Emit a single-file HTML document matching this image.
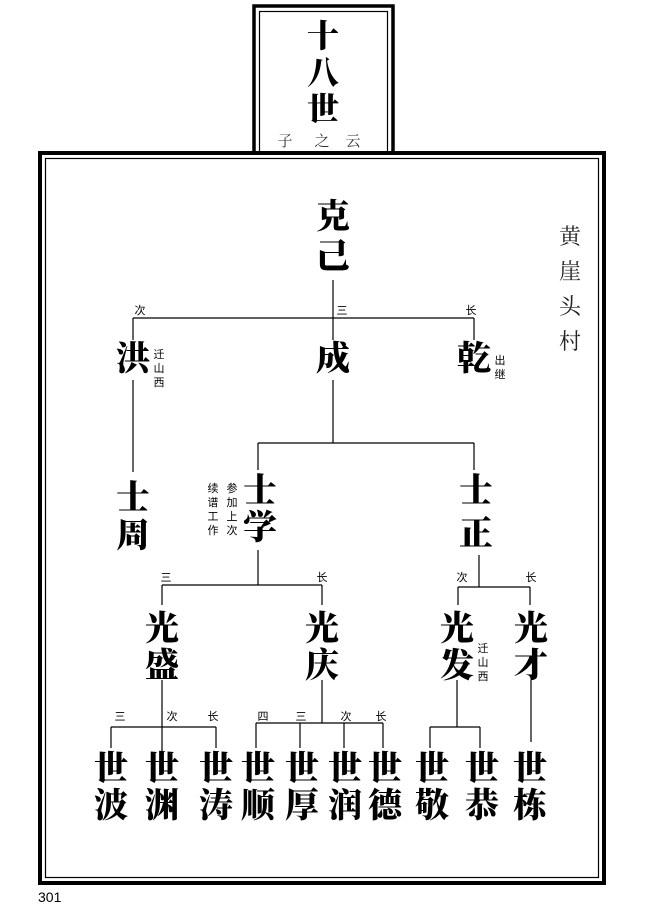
<!DOCTYPE html>
<html><head><meta charset="utf-8"><style>
body{margin:0;background:#fff;}
svg{display:block;}
.b{font-family:"Liberation Serif","Noto Serif CJK SC",serif;font-weight:900;font-size:34px;text-anchor:middle;fill:#000;}
.s{font-family:"Liberation Sans","Noto Sans CJK SC",sans-serif;font-size:11px;text-anchor:middle;fill:#000;}
.v{font-family:"Liberation Serif","Noto Serif CJK SC",serif;font-size:22px;text-anchor:middle;fill:#222;}
.t{font-family:"Liberation Serif","Noto Serif CJK SC",serif;font-size:15px;text-anchor:middle;fill:#333;}
</style></head><body>
<svg width="646" height="914" viewBox="0 0 646 914" xmlns="http://www.w3.org/2000/svg">
<g fill="none" stroke="#000">
<rect x="254" y="6" width="139" height="150" stroke-width="3.5"/>
<rect x="259.5" y="11.5" width="128" height="145" stroke-width="1.2"/>
<rect x="40" y="153" width="564" height="730" stroke-width="4" fill="#fff"/>
<rect x="45.5" y="158.5" width="553" height="719" stroke-width="1.2"/>
</g>
<g fill="none" stroke="#000" stroke-width="1.2">
<path d="M333 280V340M133 318H474M133 318V340M474 318V340"/>
<path d="M133 380V472M333 380V443M258 443H474M258 443V470M474 443V470"/>
<path d="M258 550V585M162 585H322M162 585V605M322 585V605"/>
<path d="M479 555V587M458 587H530M458 587V605M530 587V605"/>
<path d="M162 680V760M111 727H216M111 727V748M216 727V748"/>
<path d="M322 680V723M256 723H383M256 723V748M300 723V748M344 723V748M383 723V748"/>
<path d="M457 680V727M430 727H480M430 727V748M480 727V748M531 680V742"/>
</g>
<text class="b" x="323" y="47" style="font-size:32px">十</text>
<text class="b" x="323" y="84" style="font-size:32px">八</text>
<text class="b" x="323" y="120" style="font-size:32px">世</text>
<text class="t" x="285" y="146">子</text><text class="t" x="322" y="146">之</text><text class="t" x="353" y="146">云</text>
<text class="v" x="570" y="244">黄</text><text class="v" x="570" y="279">崖</text><text class="v" x="570" y="314">头</text><text class="v" x="570" y="349">村</text>
<text class="b" x="333" y="228">克</text><text class="b" x="333" y="268">己</text>
<text class="s" x="140" y="314">次</text><text class="s" x="342" y="314">三</text><text class="s" x="471" y="314">长</text>
<text class="b" x="133" y="370">洪</text><text class="b" x="333" y="370">成</text><text class="b" x="474" y="370">乾</text>
<text class="s" x="159" y="358">迁</text><text class="s" x="159" y="372">山</text><text class="s" x="159" y="386">西</text>
<text class="s" x="500" y="364">出</text><text class="s" x="500" y="378">继</text>
<text class="b" x="133" y="509">士</text><text class="b" x="133" y="547">周</text>
<text class="b" x="260" y="502">士</text><text class="b" x="260" y="539">学</text>
<text class="b" x="476" y="502">士</text><text class="b" x="476" y="545">正</text>
<g class="s"><text x="213" y="492">续</text><text x="213" y="506">谱</text><text x="213" y="520">工</text><text x="213" y="534">作</text>
<text x="232" y="492">参</text><text x="232" y="506">加</text><text x="232" y="520">上</text><text x="232" y="534">次</text></g>
<text class="s" x="166" y="581">三</text><text class="s" x="322" y="581">长</text>
<text class="s" x="462" y="581">次</text><text class="s" x="531" y="581">长</text>
<text class="b" x="162" y="640">光</text><text class="b" x="162" y="677">盛</text>
<text class="b" x="322" y="640">光</text><text class="b" x="322" y="677">庆</text>
<text class="b" x="457" y="640">光</text><text class="b" x="457" y="677">发</text>
<text class="b" x="531" y="640">光</text><text class="b" x="531" y="677">才</text>
<text class="s" x="483" y="652">迁</text><text class="s" x="483" y="666">山</text><text class="s" x="483" y="680">西</text>
<text class="s" x="120" y="720">三</text><text class="s" x="172" y="720">次</text><text class="s" x="213" y="720">长</text>
<text class="s" x="263" y="720">四</text><text class="s" x="301" y="720">三</text><text class="s" x="346" y="720">次</text><text class="s" x="381" y="720">长</text>
<g class="b">
<text x="111" y="780">世</text><text x="111" y="817">波</text>
<text x="162" y="780">世</text><text x="162" y="817">渊</text>
<text x="216" y="780">世</text><text x="216" y="817">涛</text>
<text x="258" y="780">世</text><text x="258" y="817">顺</text>
<text x="302" y="780">世</text><text x="302" y="817">厚</text>
<text x="345" y="780">世</text><text x="345" y="817">润</text>
<text x="385" y="780">世</text><text x="385" y="817">德</text>
<text x="432" y="780">世</text><text x="432" y="817">敬</text>
<text x="482" y="780">世</text><text x="482" y="817">恭</text>
<text x="530" y="780">世</text><text x="530" y="817">栋</text>
</g>
<text x="38" y="902" style="font-family:'Liberation Sans',sans-serif;font-size:14px;fill:#000">301</text>
</svg>
</body></html>
